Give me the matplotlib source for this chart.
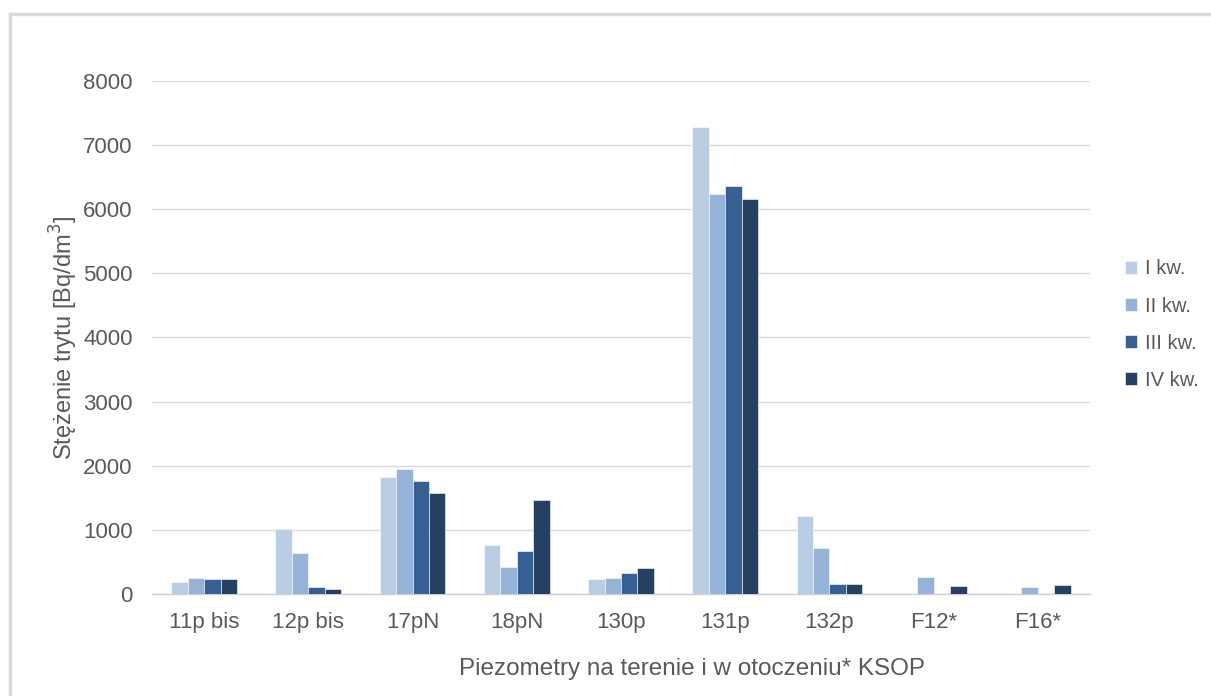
import numpy as np
import matplotlib.pyplot as plt
from matplotlib.patches import Rectangle

plt.rcParams['font.family'] = ['Liberation Sans', 'DejaVu Sans']

# Data
piezometers = ['11p bis', '12p bis', '17pN', '18pN', '130p', '131p', '132p', 'F12*', 'F16*']
q1 = [190, 1010, 1830, 770, 230, 7280, 1215, 0, 0]
q2 = [250, 635, 1945, 415, 250, 6235, 720, 270, 105]
q3 = [230, 105, 1760, 675, 320, 6365, 155, 0, 0]
q4 = [230, 80, 1570, 1460, 400, 6160, 155, 125, 140]
series_labels = ['I kw.', 'II kw.', 'III kw.', 'IV kw.']
colors = ['#B9CDE5', '#95B3D7', '#366092', '#254061']

text_col = '#595959'

fig = plt.figure(figsize=(12.11, 6.96), dpi=100)
ax = fig.add_axes([0.1255, 0.1466, 0.7746, 0.737])

# light frame around the whole chart (open at right/bottom like the crop)
fig.patches.append(Rectangle((10 / 1211, -0.05), 1.1, (696 - 14) / 696 + 0.05,
                             transform=fig.transFigure, fill=False,
                             edgecolor='#D9D9D9', linewidth=2.5))

x = np.arange(len(piezometers))
w = 0.158
for i, vals in enumerate([q1, q2, q3, q4]):
    ax.bar(x + (i - 1.5) * w, vals, width=w, color=colors[i],
           edgecolor='white', linewidth=0.4, label=series_labels[i], zorder=3)

ax.set_xlim(-0.5, len(piezometers) - 0.5)
ax.set_ylim(0, 8000)
ax.set_yticks(range(0, 8001, 1000))
ax.yaxis.grid(True, color='#D9D9D9', linewidth=1.0, zorder=0)
ax.set_axisbelow(True)

for s in ['top', 'right', 'left']:
    ax.spines[s].set_visible(False)
ax.spines['bottom'].set_color('#D0D0D0')
ax.spines['bottom'].set_linewidth(1.0)
ax.tick_params(axis='both', length=0, colors=text_col, labelsize=16)
ax.tick_params(axis='y', pad=14)
ax.tick_params(axis='x', pad=13)
ax.set_xticks(x)
ax.set_xticklabels(piezometers)

ax.set_ylabel('Stężenie trytu [Bq/dm$^3$]', fontsize=17, color=text_col, labelpad=2)
ax.set_xlabel('Piezometry na terenie i w otoczeniu* KSOP', fontsize=17.5,
              color=text_col)
# axis title sits right of centre, as in the source chart
ax.xaxis.set_label_coords(0.576, -0.125)

leg = ax.legend(loc='center left', bbox_to_anchor=(1.018, 0.525), frameon=False,
                fontsize=14.5, handlelength=0.6, handleheight=0.6,
                handletextpad=0.4, labelspacing=0.9)
for t in leg.get_texts():
    t.set_color(text_col)

fig.savefig('out.png', dpi=100)
